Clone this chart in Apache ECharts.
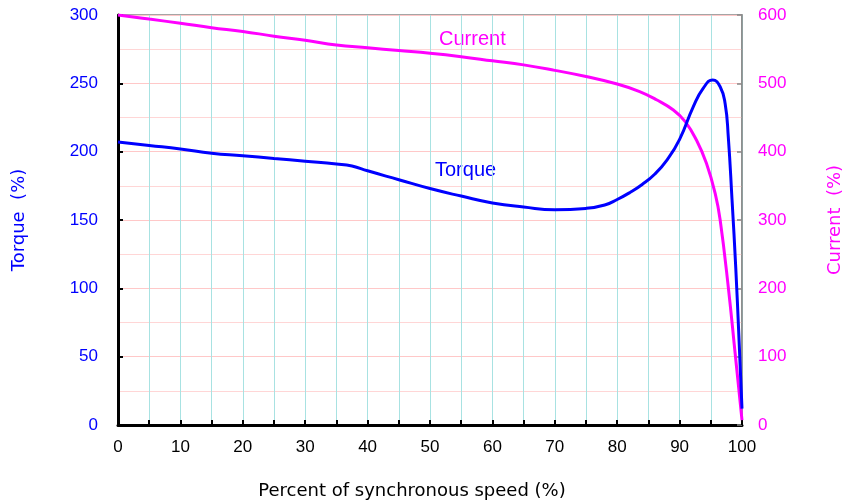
<!DOCTYPE html>
<html>
<head>
<meta charset="utf-8">
<script src="https://cdn.jsdelivr.net/npm/echarts@6/dist/echarts.min.js"></script>
<style>
  html, body { margin: 0; padding: 0; background: #fff; }
  #chart { width: 843px; height: 504px; }
</style>
</head>
<body>
<div id="chart"></div>
<script>
// speed (% of synchronous) vs torque (%)
var torqueSpeed = [0, 5, 10, 15, 20, 25, 30, 35, 37.5, 40, 45, 50, 55, 60, 65, 70, 75, 78, 80, 82, 84, 86, 88, 90, 92.2, 93.8, 95.3, 96.5, 97.3, 97.8, 98.4, 99, 99.5, 100];
var torqueValues = [207, 204.5, 202, 198.8, 197, 195, 193, 191, 189.5, 186, 179.5, 173, 167.5, 162.5, 159.5, 157.5, 158.5, 161, 165, 170, 176, 183.5, 194, 209, 233, 246.5, 252.5, 247.5, 235, 211, 165, 115, 65, 12];

// speed vs current (%)
var currentSpeed = [0, 5, 10, 15, 20, 25, 30, 35, 40, 45, 50, 55, 60, 65, 70, 75, 80, 83.6, 86.3, 89, 90.9, 92.7, 94.3, 95.7, 96.5, 97.8, 98.9, 100];
var currentValues = [600, 594, 588, 581.5, 576, 569, 563, 556, 552, 548, 544, 539, 533, 527, 519, 510, 499, 488, 476, 461, 444, 417, 383, 339, 300, 202, 105, 7];

var BLUE = '#0000ff';
var MAGENTA = '#ff00ff';
var FONT = 'Liberation Sans';
var NAME_FONT = 'DejaVu Sans';

function pairs(xs, ys) {
  var out = [];
  for (var i = 0; i < xs.length; i++) out.push([xs[i], ys[i]]);
  return out;
}

var chart = echarts.init(document.getElementById('chart'));

chart.setOption({
  animation: false,
  backgroundColor: '#fff',
  textStyle: { fontFamily: FONT },
  grid: {
    left: 118, right: 101, top: 15, bottom: 79,
    outerBoundsMode: 'none',
    containLabel: false,
    show: true, borderColor: '#888', borderWidth: 1.5
  },
  xAxis: {
    type: 'value', min: 0, max: 100, interval: 10,
    name: 'Percent of synchronous speed (%)',
    nameLocation: 'middle', nameGap: 57,
    nameTextStyle: { color: '#000', fontSize: 18, fontFamily: NAME_FONT, padding: [0, 36, 0, 0] },
    axisLine: { show: true, onZero: false, lineStyle: { color: '#000', width: 3 } },
    axisTick: { show: true, inside: true, length: 5, lineStyle: { color: '#000', width: 2 } },
    minorTick: { show: true, splitNumber: 2, length: 5, lineStyle: { color: '#000', width: 2 } },
    axisLabel: { color: '#000', fontSize: 17, margin: 14, fontFamily: FONT },
    splitLine: { show: true, lineStyle: { color: '#a8e2e2', width: 1 } },
    minorSplitLine: { show: true, lineStyle: { color: '#a8e2e2', width: 1 } }
  },
  yAxis: [
    {
      type: 'value', min: 0, max: 300, interval: 50,
      name: 'Torque  (%)',
      nameLocation: 'middle', nameGap: 90,
      nameTextStyle: { color: BLUE, fontSize: 18, fontFamily: NAME_FONT },
      axisLine: { show: true, lineStyle: { color: '#000', width: 3 } },
      axisTick: { show: true, inside: true, length: 5, lineStyle: { color: '#000', width: 2 } },
      axisLabel: { color: BLUE, fontSize: 17, margin: 20, fontFamily: FONT },
      splitLine: { show: true, lineStyle: { color: '#ffc8c8', width: 1 } },
      minorTick: { show: false, splitNumber: 2 },
      minorSplitLine: { show: true, lineStyle: { color: '#ffd6d6', width: 1 } }
    },
    {
      type: 'value', min: 0, max: 600, interval: 100, position: 'right',
      name: 'Current  (%)',
      nameLocation: 'middle', nameGap: 84,
      nameRotate: 90,
      nameTextStyle: { color: MAGENTA, fontSize: 18, fontFamily: NAME_FONT },
      axisLine: { show: true, lineStyle: { color: '#888', width: 1.5 } },
      axisTick: { show: true, inside: true, length: 5, lineStyle: { color: '#888', width: 1.5 } },
      axisLabel: { color: MAGENTA, fontSize: 17, margin: 16, fontFamily: FONT },
      splitLine: { show: false }
    }
  ],
  graphic: [
    { type: 'text', left: 439, top: 29, style: { text: 'Current', fill: MAGENTA, fontSize: 20, fontFamily: FONT } },
    { type: 'text', left: 435, top: 160, style: { text: 'Torque', fill: BLUE, fontSize: 20, fontFamily: FONT } }
  ],
  series: [
    {
      name: 'Current', type: 'line', yAxisIndex: 1,
      data: pairs(currentSpeed, currentValues),
      smooth: 0.45, showSymbol: false, symbol: 'none',
      lineStyle: { color: MAGENTA, width: 3 }, z: 3
    },
    {
      name: 'Torque', type: 'line', yAxisIndex: 0,
      data: pairs(torqueSpeed, torqueValues),
      smooth: 0.5, showSymbol: false, symbol: 'none',
      lineStyle: { color: BLUE, width: 3 }, z: 4
    }
  ]
});
</script>
</body>
</html>
